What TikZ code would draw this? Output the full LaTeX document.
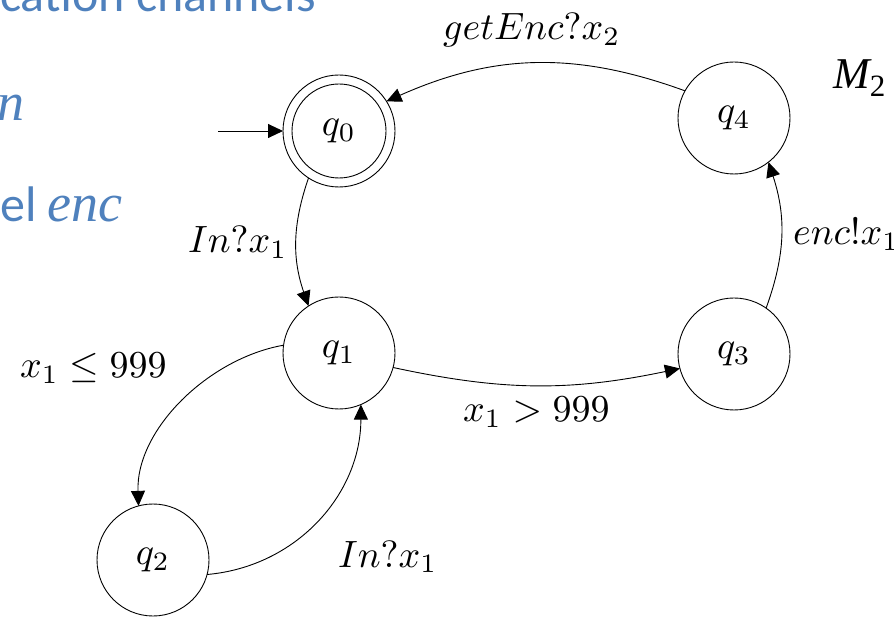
\documentclass[tikz,border=0pt]{standalone}
\usepackage{graphicx}
\usepackage{fontspec}
\usetikzlibrary{arrows.meta}
\newfontfamily\calibri{Carlito}
\newfontfamily\cambria{Liberation Serif}
\definecolor{slideblue}{HTML}{4F81BD}
\newcommand\lb[1]{\scalebox{3.8}{#1}}
\begin{document}
\begin{tikzpicture}[x=1pt,y=1pt,
  state/.style={circle,draw,line width=0.9pt,minimum size=112pt,inner sep=0pt,outer sep=0pt},
  edge/.style={line width=0.9pt,-{Triangle[length=15pt,width=14pt]}},
  lab/.style={inner sep=0pt,anchor=base west},
  slide/.style={inner sep=0pt,anchor=base west,text=slideblue}]
\useasboundingbox (0,0) rectangle (894,616);
\clip (0,0) rectangle (894,616);
% slide text fragments
\node[slide,font=\calibri\fontsize{50}{60}\selectfont] (t1) at (0,604) {cation channels};
\node[slide,font=\cambria\itshape\fontsize{54}{60}\selectfont] (t2) at (-3,495) {n};
\node[slide] (t3) at (0,394) {{\calibri\fontsize{50}{60}\selectfont el }{\cambria\itshape\fontsize{54}{60}\selectfont enc}};
\node[inner sep=0pt,anchor=base west] (m2) at (833,527) {{\cambria\itshape\fontsize{44}{50}\selectfont M}\raisebox{-8pt}{\cambria\fontsize{31}{36}\selectfont 2}};
% states
\node[state] (q0) at (339,485) {\lb{$q_0$}};
\draw[line width=0.9pt] (q0.center) circle (47pt);
\node[state] (q1) at (339,263) {\lb{$q_1$}};
\node[state] (q2) at (153,56) {\lb{$q_2$}};
\node[state] (q3) at (734,262) {\lb{$q_3$}};
\node[state] (q4) at (734,498) {\lb{$q_4$}};
% transitions
\coordinate (init) at (218,485);
\draw[edge] (init) -- (q0);
\draw[edge] (q0.-123) to[bend right=19] (q1.123);
\draw[edge] (q1.172) to[out=190,in=92,looseness=0.9] (q2.105);
\draw[edge] (q2.-15) to[out=5,in=-90] (q1.-67);
\draw[edge] (q1.-15) to[bend right=12] (q3.195);
\draw[edge] (q3.55) to[bend right=19] (q4.-52);
\draw[edge] (q4.151) to[bend right=22] (q0.32);
% labels
\node[lab] (l1) at (188,363) {\lb{$In?x_1$}};
\node[lab] (l2) at (20,238) {\lb{$x_1\leq 999$}};
\node[lab] (l3) at (338,49) {\lb{$In?x_1$}};
\node[lab] (l4) at (463,194) {\lb{$x_1>999$}};
\node[lab] (l5) at (793,371) {\lb{$enc!x_1$}};
\node[lab] (l6) at (443,576) {\lb{$getEnc?x_2$}};
\end{tikzpicture}
\end{document}
